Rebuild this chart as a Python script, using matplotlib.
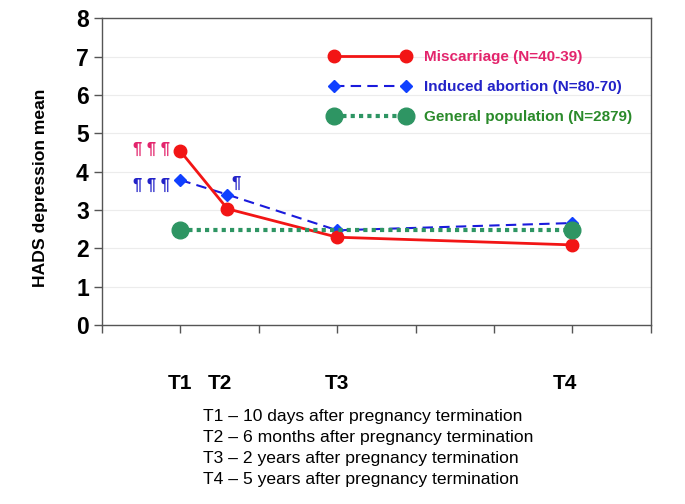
import numpy as np
import matplotlib.pyplot as plt

plt.rcParams['font.family'] = ['Liberation Sans', 'DejaVu Sans']

# time points (x position on the axis) and labels
time_labels = ['T1', 'T2', 'T3', 'T4']
time_x = [1.0, 1.6, 3.0, 6.0]

miscarriage = [4.53, 3.03, 2.29, 2.09]
induced = [3.78, 3.40, 2.47, 2.66]
general_x = [1.0, 6.0]
general = [2.48, 2.48]

legend_labels = ['Miscarriage (N=40-39)', 'Induced abortion (N=80-70)',
                 'General population (N=2879)']
legend_colors = ['#e3246c', '#2222c8', '#2a8a2a']

footnotes = ['T1 \u2013 10 days after pregnancy termination',
             'T2 \u2013 6 months after pregnancy termination',
             'T3 \u2013 2 years after pregnancy termination',
             'T4 \u2013 5 years after pregnancy termination']

fig = plt.figure(figsize=(6.85, 5.04), dpi=100)
ax = fig.add_axes([0.149, 0.355, 0.801, 0.609])

# series
l1, = ax.plot(time_x, miscarriage, color='#f21515', lw=2, marker='o', ms=9,
              label=legend_labels[0], zorder=4)
l2, = ax.plot(time_x, induced, color='#1a1adc', lw=1.5, ls=(0, (5, 3)),
              marker='D', ms=6, mfc='#1040ff', mec='#1040ff',
              label=legend_labels[1], zorder=3)
l3, = ax.plot(general_x, general, color='#2e9563', lw=3, ls=(0, (1, 1)),
              marker='o', ms=12, label=legend_labels[2], zorder=5)

ax.set_xlim(0, 7)
ax.set_ylim(0, 8)
ax.set_xticks(np.arange(0, 8))
ax.set_xticklabels([])
ax.set_yticks(np.arange(0, 9))
ax.tick_params(axis='y', labelsize=16.5, length=6, color='#555555', width=1)
ax.tick_params(axis='x', length=6, color='#555555', width=1)
for t in ax.get_yticklabels():
    t.set_fontweight('bold')
for s in ax.spines.values():
    s.set_color('#555555')
    s.set_linewidth(1)
ax.yaxis.grid(True, color='#ececec', lw=0.8)
ax.set_axisbelow(True)
ax.set_ylabel('HADS depression mean', fontsize=12.6, fontweight='bold')
ax.yaxis.set_label_coords(-0.099, 0.446)

# time point labels under the axis
xlab_x = [1.0, 1.5, 3.0, 5.9]
for lab, xv in zip(time_labels, xlab_x):
    ax.text(xv, -0.19, lab, transform=ax.get_xaxis_transform(),
            ha='center', va='center', fontsize=15, fontweight='bold')

# significance marks
ax.text(0.87, miscarriage[0] + 0.05, '\u00b6 \u00b6 \u00b6', color='#e3246c',
        ha='right', va='center', fontsize=12, fontweight='bold')
ax.text(0.87, induced[0] - 0.15, '\u00b6 \u00b6 \u00b6', color='#2222c8',
        ha='right', va='center', fontsize=12, fontweight='bold')
ax.text(time_x[1] + 0.05, induced[1] + 0.3, '\u00b6', color='#2222c8',
        ha='left', va='center', fontsize=12, fontweight='bold')

leg = ax.legend(handles=[l1, l2, l3], loc='upper left',
                bbox_to_anchor=(0.39, 0.94), frameon=False, numpoints=2,
                handlelength=5.3, handletextpad=0.85, labelspacing=1.05,
                prop={'size': 11, 'weight': 'bold'})
for txt, c in zip(leg.get_texts(), legend_colors):
    txt.set_color(c)

for i, line in enumerate(footnotes):
    fig.text(0.296, 0.174 - i * 0.0415, line, fontsize=12.6, va='center')

fig.savefig('out.png', dpi=100)
